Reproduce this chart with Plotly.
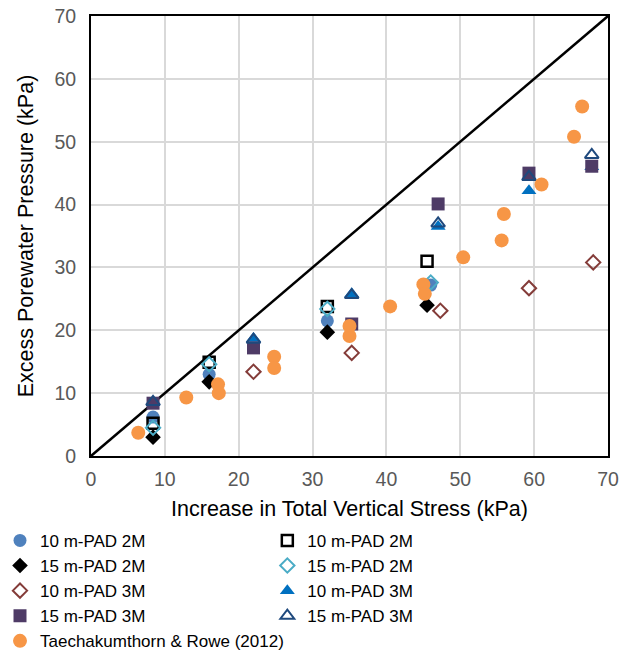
import plotly.graph_objects as go

# ---- data ----
pad10_2m_circle_x = [8.4, 16.0, 32.0, 46.0]
pad10_2m_circle_y = [6.2, 13.0, 21.5, 27.2]

pad10_2m_square_x = [8.4, 16.0, 32.0, 45.5]
pad10_2m_square_y = [5.2, 14.9, 23.8, 31.0]

pad15_2m_diamond_x = [8.4, 16.0, 32.0, 45.5]
pad15_2m_diamond_y = [3.0, 11.8, 19.7, 24.0]

pad15_2m_odiamond_x = [8.4, 16.0, 32.0, 46.0]
pad15_2m_odiamond_y = [4.5, 14.6, 23.4, 27.6]

pad10_3m_odiamond_x = [22.0, 35.3, 47.3, 59.3, 68.0]
pad10_3m_odiamond_y = [13.4, 16.4, 23.1, 26.7, 30.8]

pad10_3m_tri_x = [22.0, 35.3, 47.0, 59.3, 67.8]
pad10_3m_tri_y = [18.7, 25.8, 36.5, 42.2, 46.0]

pad15_3m_square_x = [8.4, 22.0, 35.3, 47.0, 59.3, 67.8]
pad15_3m_square_y = [8.4, 17.2, 21.0, 40.1, 45.0, 46.1]

pad15_3m_otri_x = [8.4, 22.0, 35.3, 47.0, 59.3, 67.8]
pad15_3m_otri_y = [8.6, 18.5, 25.6, 37.0, 44.4, 47.9]

tr_x = [6.4, 12.9, 17.2, 17.3, 24.8, 24.8, 35.0, 35.0, 40.5, 45.0, 45.2,
        50.4, 55.9, 55.6, 61.0, 65.4, 66.5]
tr_y = [3.7, 9.3, 11.4, 10.0, 15.8, 14.0, 20.7, 19.1, 23.8, 27.3, 25.8,
        31.6, 38.5, 34.3, 43.2, 50.8, 55.6]

diag = [0, 70]

FONT = "Liberation Sans, Arial"

# (name, x, y, marker, legend column)
series = [
    ("10 m-PAD 2M", pad10_2m_circle_x, pad10_2m_circle_y,
     dict(symbol="circle", size=13, color="#4F81BD", line=dict(width=0)), "legend"),
    ("10 m-PAD 2M", pad10_2m_square_x, pad10_2m_square_y,
     dict(symbol="square-open", size=11, color="#000000", line=dict(width=2.5, color="#000000")), "legend2"),
    ("15 m-PAD 2M", pad15_2m_diamond_x, pad15_2m_diamond_y,
     dict(symbol="diamond", size=12, color="#000000", line=dict(width=0)), "legend"),
    ("15 m-PAD 2M", pad15_2m_odiamond_x, pad15_2m_odiamond_y,
     dict(symbol="diamond-open", size=11, color="#4BACC6", line=dict(width=2, color="#4BACC6")), "legend2"),
    ("10 m-PAD 3M", pad10_3m_odiamond_x, pad10_3m_odiamond_y,
     dict(symbol="diamond-open", size=11, color="#843C39", line=dict(width=2, color="#843C39")), "legend"),
    ("10 m-PAD 3M", pad10_3m_tri_x, pad10_3m_tri_y,
     dict(symbol="triangle-up", size=13, color="#0070C0", line=dict(width=0)), "legend2"),
    ("15 m-PAD 3M", pad15_3m_square_x, pad15_3m_square_y,
     dict(symbol="square", size=13, color="#4E3B66", line=dict(width=0)), "legend"),
    ("15 m-PAD 3M", pad15_3m_otri_x, pad15_3m_otri_y,
     dict(symbol="triangle-up-open", size=12, color="#1F497D", line=dict(width=2, color="#1F497D")), "legend2"),
    ("Taechakumthorn & Rowe (2012)", tr_x, tr_y,
     dict(symbol="circle", size=14, color="#F79646", line=dict(width=0)), "legend"),
]

fig = go.Figure()
fig.add_trace(go.Scatter(x=diag, y=diag, mode="lines",
                         line=dict(color="#000000", width=2.5),
                         showlegend=False, hoverinfo="skip"))
for name, xs, ys, mk, lg in series:
    fig.add_trace(go.Scatter(x=xs, y=ys, mode="markers", name=name, marker=mk, legend=lg))

axis_common = dict(
    range=[0, 70], dtick=10, showgrid=True, gridcolor="#D9D9D9", gridwidth=1.5,
    zeroline=False, showline=True, linecolor="#000000", linewidth=2, mirror=True,
    ticks="", automargin=False,
    tickfont=dict(family=FONT, size=19.5, color="#595959"),
)
fig.update_xaxes(**axis_common, ticklabelstandoff=5,
                 title=dict(text="Increase in Total Vertical Stress (kPa)",
                            font=dict(family=FONT, size=21.5, color="#000000"),
                            standoff=12))
fig.update_yaxes(**axis_common, ticklabelstandoff=9,
                 title=dict(text="Excess Porewater Pressure (kPa)",
                            font=dict(family=FONT, size=21.5, color="#000000"),
                            standoff=15))

# horizontal legends (one entry per row) so they don't reserve side margins
legend_common = dict(orientation="h", xref="container", yref="container",
                     xanchor="left", yanchor="top", itemwidth=30, tracegroupgap=0,
                     entrywidthmode="pixels",
                     bgcolor="rgba(0,0,0,0)",
                     font=dict(family=FONT, size=17, color="#000000"))

fig.update_layout(
    width=629, height=652,
    margin=dict(l=91, r=21, t=16, b=196, autoexpand=False),
    paper_bgcolor="#FFFFFF", plot_bgcolor="#FFFFFF",
    font=dict(family=FONT, color="#000000"),
    legend=dict(**legend_common, x=0.0, y=0.198, entrywidth=275),
    legend2=dict(**legend_common, x=0.425, y=0.198, entrywidth=230),
)

fig.write_html("out.html")
